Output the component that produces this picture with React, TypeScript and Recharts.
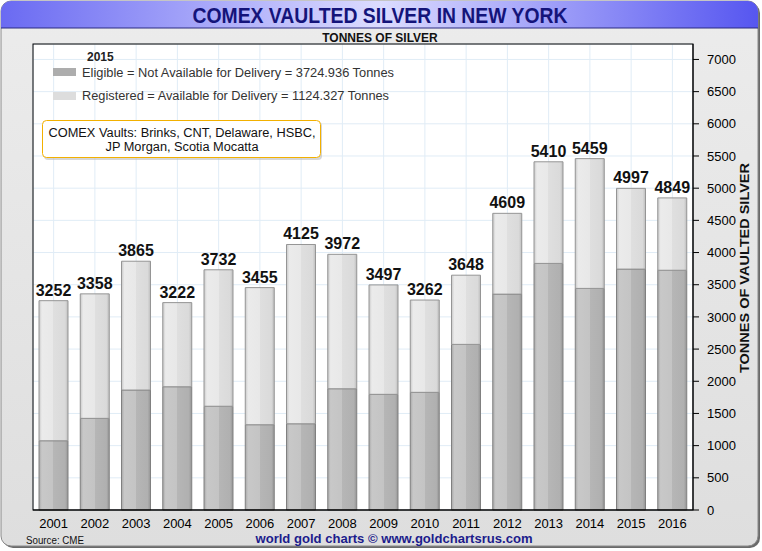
import React from "react";
import {
  BarChart,
  Bar,
  XAxis,
  YAxis,
  CartesianGrid,
  LabelList,
} from "recharts";

// values (tonnes)
const years = [
  "2001", "2002", "2003", "2004", "2005", "2006", "2007", "2008",
  "2009", "2010", "2011", "2012", "2013", "2014", "2015", "2016",
];
const totals = [
  3252, 3358, 3865, 3222, 3732, 3455, 4125, 3972,
  3497, 3262, 3648, 4609, 5410, 5459, 4997, 4849,
];
const eligible = [
  1076, 1424, 1864, 1915, 1612, 1325, 1340, 1884,
  1797, 1828, 2573, 3354, 3831, 3443, 3743, 3725,
];
const yTicks = [
  0, 500, 1000, 1500, 2000, 2500, 3000, 3500,
  4000, 4500, 5000, 5500, 6000, 6500, 7000,
];

const data = years.map((year, i) => ({
  year,
  eligible: eligible[i],
  registered: totals[i] - eligible[i],
  total: totals[i],
}));

const FONT = "'Liberation Sans', Arial, Helvetica, sans-serif";

const App: React.FC = () => {
  return (
    <div
      style={{
        position: "absolute",
        left: 0,
        top: 0,
        width: 762,
        height: 551,
        fontFamily: FONT,
      }}
    >
      {/* panel + title band */}
      <svg
        width={762}
        height={551}
        style={{ position: "absolute", left: 0, top: 0 }}
      >
        <defs>
          <linearGradient id="panelBg" x1="0" y1="0" x2="0" y2="1">
            <stop offset="0" stopColor="#ececec" />
            <stop offset="1" stopColor="#dedede" />
          </linearGradient>
          <linearGradient id="titleBg" x1="0" y1="0" x2="1" y2="0">
            <stop offset="0" stopColor="#6a6af2" />
            <stop offset="0.5" stopColor="#dcdcff" />
            <stop offset="1" stopColor="#5656f0" />
          </linearGradient>
          <clipPath id="panelClip">
            <rect x={1} y={1} width={757} height={545} rx={10} />
          </clipPath>
        </defs>
        <rect x={3} y={3} width={757} height={545} rx={10} fill="#6a6a6a" />
        <rect x={1} y={1} width={757} height={545} rx={10} fill="url(#panelBg)" stroke="#8a8a8a" />
        <g clipPath="url(#panelClip)">
          <rect x={1} y={1} width={757} height={27} fill="url(#titleBg)" />
          <line x1={1} y1={28} x2={758} y2={28} stroke="#2a2a80" strokeWidth={1} />
        </g>
        <text
          x={380}
          y={23}
          textAnchor="middle"
          fontSize={22}
          fontWeight="bold"
          fill="#14147a"
          textLength={375}
          lengthAdjust="spacingAndGlyphs"
          fontFamily={FONT}
        >
          COMEX VAULTED SILVER IN NEW YORK
        </text>
        <text
          x={380}
          y={42}
          textAnchor="middle"
          fontSize={12}
          fontWeight="bold"
          fill="#111"
          fontFamily={FONT}
        >
          TONNES OF SILVER
        </text>
        <text x={26} y={544} fontSize={10} fill="#111" fontFamily={FONT} textLength={58} lengthAdjust="spacingAndGlyphs">
          Source: CME
        </text>
        <text
          x={394}
          y={543}
          textAnchor="middle"
          fontSize={13}
          fontWeight="bold"
          fill="#1c1c8c"
          fontFamily={FONT}
          textLength={277}
          lengthAdjust="spacingAndGlyphs"
        >
          world gold charts © www.goldchartsrus.com
        </text>
        <text
          transform="translate(749 268) rotate(-90)"
          textAnchor="middle"
          fontSize={13}
          fontWeight="bold"
          fill="#111"
          fontFamily={FONT}
          textLength={210}
          lengthAdjust="spacingAndGlyphs"
        >
          TONNES OF VAULTED SILVER
        </text>
      </svg>

      <div style={{ position: "absolute", left: 0, top: 0 }}>
        <BarChart
          width={762}
          height={551}
          data={data}
          margin={{ top: 44, right: 0, bottom: 0, left: 33 }}
          barSize={29}
        >
          <defs>
            <linearGradient id="eligFill" x1="0" y1="0" x2="1" y2="0">
              <stop offset="0" stopColor="#a8a8a8" />
              <stop offset="0.1" stopColor="#c8c8c8" />
              <stop offset="0.5" stopColor="#c4c4c4" />
              <stop offset="0.5" stopColor="#b6b6b6" />
              <stop offset="0.9" stopColor="#b0b0b0" />
              <stop offset="1" stopColor="#949494" />
            </linearGradient>
            <linearGradient id="regFill" x1="0" y1="0" x2="1" y2="0">
              <stop offset="0" stopColor="#c8c8c8" />
              <stop offset="0.1" stopColor="#ebebeb" />
              <stop offset="0.5" stopColor="#e8e8e8" />
              <stop offset="0.5" stopColor="#dfdfdf" />
              <stop offset="0.9" stopColor="#dadada" />
              <stop offset="1" stopColor="#bdbdbd" />
            </linearGradient>
          </defs>
          <CartesianGrid stroke="#e0ecf6" fill="#ffffff" />
          <XAxis
            dataKey="year"
            height={41}
            tickLine={false}
            tickSize={0}
            tickMargin={9}
            axisLine={{ stroke: "#000" }}
            tick={{ fontSize: 13, fill: "#000", fontFamily: FONT }}
            interval={0}
          />
          <YAxis
            orientation="right"
            width={69}
            domain={[0, 7240]}
            ticks={yTicks}
            tickSize={6}
            tickMargin={8}
            tickLine={{ stroke: "#000" }}
            axisLine={{ stroke: "#000" }}
            tick={{ fontSize: 13, fill: "#000", fontFamily: FONT, textAnchor: "start" }}
            interval={0}
          />
          <Bar
            dataKey="eligible"
            stackId="a"
            fill="url(#eligFill)"
            stroke="#808080"
            strokeWidth={1}
            isAnimationActive={false}
          />
          <Bar
            dataKey="registered"
            stackId="a"
            fill="url(#regFill)"
            stroke="#959595"
            strokeWidth={1}
            isAnimationActive={false}
          >
            <LabelList
              dataKey="total"
              position="top"
              offset={5}
              fontSize={16}
              fontWeight="bold"
              fill="#111"
              fontFamily={FONT}
            />
          </Bar>
        </BarChart>
      </div>

      {/* plot frame, legend, note */}
      <svg
        width={762}
        height={551}
        style={{ position: "absolute", left: 0, top: 0, pointerEvents: "none" }}
      >
        <rect x={33} y={44} width={660} height={466} fill="none" stroke="#000" strokeWidth={1} />
        <text x={87} y={61} fontSize={12} fontWeight="bold" fill="#222" fontFamily={FONT}>
          2015
        </text>
        <rect x={53} y={68} width={23} height={8} fill="#adadad" />
        <text x={82} y={77} fontSize={12.5} fill="#333" fontFamily={FONT} textLength={312} lengthAdjust="spacingAndGlyphs">
          Eligible = Not Available for Delivery = 3724.936 Tonnes
        </text>
        <rect x={53} y={92} width={23} height={8} fill="#dddddd" />
        <text x={82} y={100} fontSize={12.5} fill="#333" fontFamily={FONT} textLength={307} lengthAdjust="spacingAndGlyphs">
          Registered = Available for Delivery = 1124.327 Tonnes
        </text>
        <rect x={44} y={122} width={278} height={38} rx={4} fill="#bbb" opacity={0.6} />
        <rect x={42.5} y={120.5} width={278} height={37} rx={4} fill="#fff" stroke="#f2b000" strokeWidth={1} />
        <text x={182} y={137} textAnchor="middle" fontSize={12.5} fill="#111" fontFamily={FONT} textLength={267} lengthAdjust="spacingAndGlyphs">
          COMEX Vaults: Brinks, CNT, Delaware, HSBC,
        </text>
        <text x={182} y={151} textAnchor="middle" fontSize={12.5} fill="#111" fontFamily={FONT} textLength={153} lengthAdjust="spacingAndGlyphs">
          JP Morgan, Scotia Mocatta
        </text>
      </svg>
    </div>
  );
};

export default App;
